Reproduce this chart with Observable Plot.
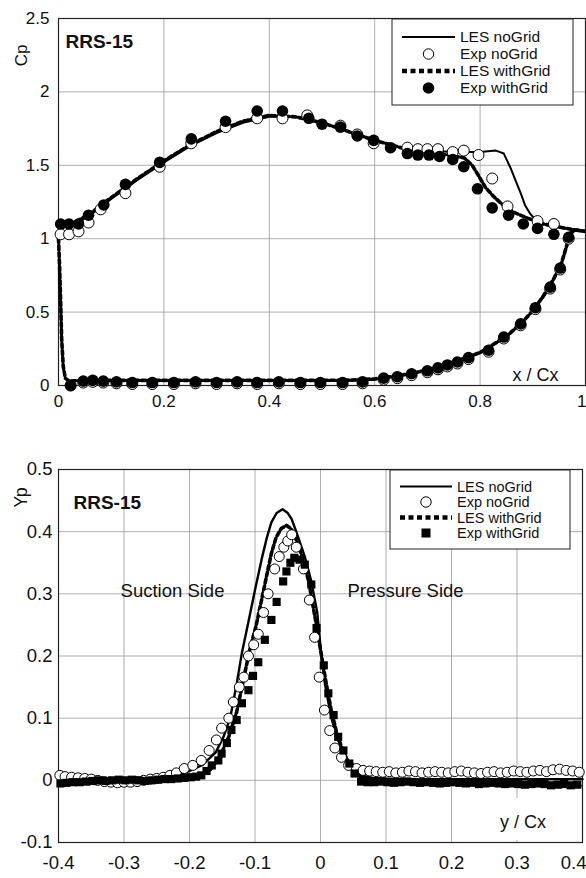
<!DOCTYPE html>
<html><head><meta charset="utf-8">
<script src="https://cdn.jsdelivr.net/npm/d3@7"></script>
<script src="https://cdn.jsdelivr.net/npm/@observablehq/plot@0.6"></script>
<style>
body{margin:0;background:#fff;}
#wrap{position:relative;width:586px;height:878px;overflow:hidden;font-family:"Liberation Sans",Arial,sans-serif;background:#fff;}
.panel{position:absolute;left:0;}
</style></head><body><div id="wrap"></div>
<script>
// ---------- Top panel: Cp vs x/Cx ----------
const cpXTicks = [0, 0.2, 0.4, 0.6, 0.8];
const cpXLastTick = [1];
const cpYTicks = [0, 0.5, 1, 1.5, 2, 2.5];

const cpLesNoGridUpperX = [0, 0.004, 0.012, 0.03, 0.06, 0.1, 0.15, 0.2, 0.25, 0.3, 0.35, 0.4, 0.45, 0.5, 0.55, 0.6, 0.65, 0.7, 0.75, 0.8, 0.83, 0.845, 0.858, 0.868, 0.877, 0.885, 0.895, 0.905, 0.92, 0.94, 0.96, 0.98, 1.0];
const cpLesNoGridUpperCp = [1.0, 1.06, 1.08, 1.10, 1.16, 1.27, 1.40, 1.52, 1.63, 1.72, 1.79, 1.83, 1.83, 1.79, 1.73, 1.67, 1.62, 1.60, 1.59, 1.59, 1.60, 1.58, 1.48, 1.39, 1.31, 1.23, 1.17, 1.13, 1.10, 1.08, 1.07, 1.06, 1.05];
const cpLesNoGridLowerX = [0, 0.002, 0.004, 0.006, 0.009, 0.013, 0.02, 0.05, 0.1, 0.2, 0.3, 0.4, 0.5, 0.55, 0.6, 0.65, 0.7, 0.75, 0.8, 0.85, 0.88, 0.9, 0.92, 0.94, 0.955, 0.965, 0.972, 0.98, 1.0];
const cpLesNoGridLowerCp = [1.0, 0.8, 0.55, 0.3, 0.12, 0.05, 0.03, 0.03, 0.03, 0.03, 0.03, 0.03, 0.03, 0.03, 0.04, 0.065, 0.10, 0.155, 0.22, 0.33, 0.43, 0.51, 0.6, 0.72, 0.83, 0.95, 1.03, 1.06, 1.05];

const cpLesWithGridUpperX = [0, 0.004, 0.012, 0.03, 0.06, 0.1, 0.15, 0.2, 0.25, 0.3, 0.35, 0.4, 0.45, 0.5, 0.55, 0.6, 0.65, 0.7, 0.74, 0.77, 0.785, 0.797, 0.81, 0.825, 0.84, 0.864, 0.89, 0.92, 0.95, 0.98, 1.0];
const cpLesWithGridUpperCp = [1.0, 1.07, 1.09, 1.11, 1.17, 1.28, 1.41, 1.53, 1.64, 1.73, 1.80, 1.84, 1.83, 1.79, 1.73, 1.67, 1.62, 1.59, 1.57, 1.55, 1.50, 1.43, 1.35, 1.29, 1.24, 1.18, 1.14, 1.10, 1.08, 1.06, 1.05];
const cpLesWithGridLowerX = [0, 0.002, 0.004, 0.006, 0.009, 0.013, 0.02, 0.05, 0.1, 0.2, 0.3, 0.4, 0.5, 0.55, 0.6, 0.65, 0.7, 0.75, 0.8, 0.85, 0.88, 0.9, 0.92, 0.94, 0.955, 0.965, 0.972, 0.98, 1.0];
const cpLesWithGridLowerCp = [1.0, 0.82, 0.58, 0.32, 0.13, 0.05, 0.03, 0.035, 0.035, 0.035, 0.035, 0.035, 0.035, 0.037, 0.045, 0.07, 0.105, 0.16, 0.225, 0.335, 0.43, 0.51, 0.61, 0.73, 0.84, 0.96, 1.04, 1.06, 1.05];

const cpExpNoGridUpperX = [0.004, 0.02, 0.038, 0.057, 0.08, 0.127, 0.192, 0.252, 0.317, 0.377, 0.425, 0.472, 0.535, 0.567, 0.598, 0.662, 0.682, 0.70, 0.72, 0.748, 0.769, 0.797, 0.823, 0.852, 0.909, 0.94];
const cpExpNoGridUpperCp = [1.03, 1.03, 1.05, 1.11, 1.20, 1.31, 1.49, 1.65, 1.76, 1.82, 1.82, 1.84, 1.77, 1.71, 1.65, 1.62, 1.61, 1.61, 1.61, 1.59, 1.60, 1.57, 1.41, 1.22, 1.12, 1.10];
const cpExpWithGridUpperX = [0.004, 0.02, 0.038, 0.057, 0.086, 0.127, 0.192, 0.252, 0.317, 0.377, 0.425, 0.475, 0.50, 0.535, 0.567, 0.598, 0.63, 0.662, 0.682, 0.703, 0.723, 0.748, 0.769, 0.795, 0.823, 0.854, 0.882, 0.909, 0.94];
const cpExpWithGridUpperCp = [1.10, 1.10, 1.10, 1.16, 1.23, 1.37, 1.52, 1.68, 1.80, 1.87, 1.87, 1.82, 1.78, 1.76, 1.70, 1.67, 1.62, 1.58, 1.57, 1.57, 1.56, 1.54, 1.49, 1.34, 1.21, 1.16, 1.10, 1.07, 1.03];
const cpExpLowerX = [0.023, 0.047, 0.065, 0.085, 0.11, 0.14, 0.178, 0.219, 0.26, 0.30, 0.339, 0.377, 0.418, 0.459, 0.497, 0.539, 0.577, 0.617, 0.643, 0.67, 0.70, 0.72, 0.738, 0.757, 0.778, 0.816, 0.845, 0.877, 0.905, 0.933, 0.952, 0.968];
const cpExpWithGridLowerCp = [0.0, 0.03, 0.035, 0.03, 0.025, 0.02, 0.02, 0.02, 0.025, 0.02, 0.025, 0.02, 0.025, 0.02, 0.02, 0.02, 0.025, 0.05, 0.06, 0.08, 0.10, 0.12, 0.14, 0.16, 0.19, 0.24, 0.33, 0.42, 0.53, 0.67, 0.80, 1.01];
const cpExpNoGridLowerCp = [0.0, 0.02, 0.025, 0.02, 0.015, 0.01, 0.01, 0.01, 0.015, 0.01, 0.015, 0.01, 0.015, 0.01, 0.01, 0.01, 0.015, 0.04, 0.05, 0.07, 0.09, 0.11, 0.13, 0.15, 0.18, 0.23, 0.32, 0.41, 0.52, 0.66, 0.79, 1.0];

// ---------- Bottom panel: Yp vs y/Cx ----------
const ypXTicks = [-0.4, -0.3, -0.2, -0.1, 0, 0.1, 0.2, 0.3];
const ypXLastTick = [0.4];
const ypYTicks = [-0.1, 0, 0.1, 0.2, 0.3, 0.4, 0.5];

const ypLesNoGridX = [-0.4, -0.35, -0.3, -0.25, -0.22, -0.2, -0.18, -0.16, -0.148, -0.138, -0.128, -0.12, -0.11, -0.1, -0.09, -0.082, -0.075, -0.067, -0.058, -0.05, -0.044, -0.037, -0.024, -0.014, -0.005, 0.0, 0.006, 0.012, 0.018, 0.027, 0.04, 0.052, 0.065, 0.08, 0.1, 0.15, 0.2, 0.25, 0.3, 0.35, 0.4];
const ypLesNoGrid = [0.0, 0.0, 0.001, 0.004, 0.009, 0.015, 0.025, 0.045, 0.07, 0.10, 0.155, 0.205, 0.255, 0.306, 0.355, 0.39, 0.415, 0.43, 0.436, 0.43, 0.42, 0.40, 0.36, 0.32, 0.27, 0.215, 0.16, 0.125, 0.095, 0.065, 0.032, 0.014, 0.007, 0.004, 0.003, 0.002, 0.002, 0.002, 0.002, 0.002, 0.002];
const ypLesWithGridX = [-0.4, -0.35, -0.3, -0.25, -0.22, -0.19, -0.17, -0.155, -0.14, -0.128, -0.118, -0.108, -0.098, -0.09, -0.082, -0.075, -0.068, -0.06, -0.052, -0.045, -0.038, -0.028, -0.018, -0.008, 0.0, 0.008, 0.016, 0.025, 0.035, 0.048, 0.06, 0.08, 0.1, 0.15, 0.2, 0.25, 0.3, 0.35, 0.4];
const ypLesWithGrid = [-0.006, -0.005, -0.004, -0.002, 0.0, 0.006, 0.015, 0.035, 0.07, 0.11, 0.16, 0.21, 0.25, 0.29, 0.33, 0.365, 0.39, 0.405, 0.41, 0.405, 0.39, 0.36, 0.32, 0.26, 0.21, 0.16, 0.115, 0.075, 0.045, 0.02, 0.006, -0.002, -0.004, -0.005, -0.005, -0.006, -0.007, -0.008, -0.009];

const ypExpNoGridLeftX = [-0.398, -0.39, -0.38, -0.37, -0.36, -0.35, -0.34, -0.33, -0.32, -0.31, -0.30, -0.29, -0.28, -0.27, -0.26, -0.25, -0.24, -0.23, -0.22];
const ypExpNoGridLeft = [0.008, 0.006, 0.005, 0.004, 0.003, 0.002, 0.0, -0.002, -0.003, -0.004, -0.003, -0.003, -0.002, 0.0, 0.002, 0.003, 0.005, 0.008, 0.012];
const ypExpNoGridPeakX = [-0.208, -0.195, -0.182, -0.17, -0.159, -0.151, -0.14, -0.133, -0.124, -0.117, -0.11, -0.102, -0.095, -0.087, -0.08, -0.07, -0.063, -0.056, -0.05, -0.044, -0.037, -0.026, -0.017, -0.009, -0.002, 0.006, 0.014, 0.022, 0.032, 0.043, 0.055];
const ypExpNoGridPeak = [0.019, 0.024, 0.032, 0.048, 0.065, 0.084, 0.10, 0.126, 0.15, 0.166, 0.20, 0.218, 0.235, 0.27, 0.30, 0.34, 0.36, 0.375, 0.385, 0.395, 0.375, 0.34, 0.29, 0.23, 0.166, 0.113, 0.08, 0.052, 0.037, 0.024, 0.019];
const ypExpNoGridRightX = [0.065, 0.075, 0.085, 0.095, 0.105, 0.115, 0.125, 0.135, 0.145, 0.155, 0.165, 0.175, 0.185, 0.195, 0.205, 0.215, 0.225, 0.235, 0.245, 0.255, 0.265, 0.275, 0.285, 0.295, 0.305, 0.315, 0.325, 0.335, 0.345, 0.355, 0.365, 0.375, 0.385, 0.395];
const ypExpNoGridRight = [0.016, 0.015, 0.014, 0.013, 0.014, 0.012, 0.013, 0.015, 0.014, 0.012, 0.013, 0.014, 0.013, 0.012, 0.014, 0.015, 0.013, 0.012, 0.011, 0.013, 0.014, 0.012, 0.013, 0.015, 0.014, 0.013, 0.015, 0.016, 0.014, 0.017, 0.018, 0.016, 0.015, 0.013];

const ypExpWithGridLeftX = [-0.397, -0.388, -0.378, -0.368, -0.358, -0.348, -0.338, -0.328, -0.318, -0.308, -0.298, -0.288, -0.278, -0.268, -0.258, -0.248, -0.238, -0.228, -0.218, -0.208, -0.198, -0.19];
const ypExpWithGridLeft = [-0.005, -0.004, -0.003, -0.003, -0.002, -0.001, 0.0, -0.001, 0.0, 0.001, 0.0, 0.001, 0.0, -0.001, 0.0, 0.001, 0.002, 0.002, 0.003, 0.004, 0.005, 0.006];
const ypExpWithGridPeakX = [-0.182, -0.174, -0.166, -0.156, -0.151, -0.143, -0.136, -0.128, -0.12, -0.11, -0.103, -0.095, -0.085, -0.075, -0.067, -0.057, -0.052, -0.046, -0.04, -0.032, -0.024, -0.014, -0.006, 0.005, 0.012, 0.02, 0.027, 0.035, 0.044, 0.052];
const ypExpWithGridPeak = [0.008, 0.015, 0.024, 0.032, 0.043, 0.06, 0.081, 0.097, 0.124, 0.145, 0.168, 0.19, 0.226, 0.258, 0.287, 0.32, 0.336, 0.35, 0.358, 0.355, 0.347, 0.315, 0.245, 0.185, 0.14, 0.105, 0.07, 0.048, 0.027, 0.011];
const ypExpWithGridRightX = [0.062, 0.072, 0.082, 0.092, 0.102, 0.112, 0.122, 0.132, 0.142, 0.152, 0.162, 0.172, 0.182, 0.192, 0.202, 0.212, 0.222, 0.232, 0.242, 0.252, 0.262, 0.272, 0.282, 0.292, 0.302, 0.312, 0.322, 0.332, 0.342, 0.352, 0.362, 0.372, 0.382, 0.392];
const ypExpWithGridRight = [-0.002, -0.003, -0.003, -0.002, -0.003, -0.004, -0.003, -0.002, -0.003, -0.004, -0.003, -0.004, -0.005, -0.004, -0.003, -0.004, -0.005, -0.004, -0.006, -0.005, -0.004, -0.005, -0.006, -0.005, -0.006, -0.007, -0.006, -0.005, -0.006, -0.008, -0.007, -0.006, -0.008, -0.007];

const legendLabels = ["LES noGrid", "Exp noGrid", "LES withGrid", "Exp withGrid"];

// ---------- helpers ----------
const pts = (xs, ys) => xs.map((x, i) => ({x, y: ys[i]}));
const fmt = d => String(d);
const FONT = '"Liberation Sans", Arial, sans-serif';
const gridStyle = {stroke: "#9a9a9a", strokeOpacity: 1, strokeWidth: 0.8};
const solid = {x: "x", y: "y", stroke: "#000", strokeWidth: 2, curve: "linear"};
const dashed = {x: "x", y: "y", stroke: "#000", strokeWidth: 3.6, strokeDasharray: "4,3", curve: "linear"};
const label = (s, opts) => Plot.text([s], {text: d => d, frameAnchor: "top-left", textAnchor: "middle", fill: "#111", ...opts});

const wrap = document.getElementById("wrap");

// Top plot
const topPlot = Plot.plot({
  width: 586, height: 430,
  marginLeft: 58, marginRight: 1, marginTop: 18, marginBottom: 45,
  style: {fontFamily: FONT, fontSize: "17px", color: "#111", background: "#fff"},
  x: {domain: [0, 1]},
  y: {domain: [0, 2.5]},
  marks: [
    Plot.gridX(cpXTicks, gridStyle),
    Plot.gridY(cpYTicks, gridStyle),
    Plot.axisX(cpXTicks, {tickSize: 0, tickPadding: 9, tickFormat: fmt, label: null, fontSize: 17}),
    Plot.axisX(cpXLastTick, {tickSize: 0, tickPadding: 9, tickFormat: fmt, label: null, fontSize: 17, textAnchor: "end", dx: 1}),
    Plot.axisY(cpYTicks, {tickSize: 0, tickPadding: 9, tickFormat: fmt, label: null, fontSize: 17}),
    Plot.frame({stroke: "#222", strokeWidth: 1.2}),
    Plot.line(pts(cpLesNoGridUpperX, cpLesNoGridUpperCp), solid),
    Plot.line(pts(cpLesNoGridLowerX, cpLesNoGridLowerCp), solid),
    Plot.line(pts(cpLesWithGridUpperX, cpLesWithGridUpperCp), dashed),
    Plot.line(pts(cpLesWithGridLowerX, cpLesWithGridLowerCp), dashed),
    Plot.dot(pts(cpExpNoGridUpperX, cpExpNoGridUpperCp), {x: "x", y: "y", r: 5.5, fill: "#fff", stroke: "#000", strokeWidth: 1}),
    Plot.dot(pts(cpExpLowerX, cpExpNoGridLowerCp), {x: "x", y: "y", r: 5.5, fill: "#fff", stroke: "#000", strokeWidth: 1}),
    Plot.dot(pts(cpExpWithGridUpperX, cpExpWithGridUpperCp), {x: "x", y: "y", r: 5.8, fill: "#000"}),
    Plot.dot(pts(cpExpLowerX, cpExpWithGridLowerCp), {x: "x", y: "y", r: 5.8, fill: "#000"}),
    label("Cp", {dx: -44, dy: 37, rotate: -90, fontSize: 17}),
    label("RRS-15", {dx: 7, dy: 16, textAnchor: "start", fontWeight: "bold", fontSize: 19}),
    label("x / Cx", {dx: 477, dy: 350, fontSize: 18})
  ]
});
topPlot.classList.add("panel");
topPlot.style.top = "0px";
wrap.appendChild(topPlot);

// Bottom plot
const botPlot = Plot.plot({
  width: 586, height: 448,
  marginLeft: 58, marginRight: 4, marginTop: 39, marginBottom: 36,
  style: {fontFamily: FONT, fontSize: "18px", color: "#111", background: "#fff"},
  x: {domain: [-0.4, 0.4]},
  y: {domain: [-0.1, 0.5]},
  marks: [
    Plot.gridX(ypXTicks, gridStyle),
    Plot.gridY(ypYTicks, gridStyle),
    Plot.axisX(ypXTicks, {tickSize: 0, tickPadding: 13, tickFormat: fmt, label: null, fontSize: 18.5}),
    Plot.axisX(ypXLastTick, {tickSize: 0, tickPadding: 13, tickFormat: fmt, label: null, fontSize: 18.5, textAnchor: "end", dx: 4}),
    Plot.axisY(ypYTicks, {tickSize: 0, tickPadding: 6, tickFormat: fmt, label: null, fontSize: 18.5}),
    Plot.frame({stroke: "#222", strokeWidth: 1.2}),
    Plot.line(pts(ypLesNoGridX, ypLesNoGrid), {...solid, strokeWidth: 2.4}),
    Plot.line(pts(ypLesWithGridX, ypLesWithGrid), dashed),
    Plot.dot(pts(ypExpNoGridLeftX, ypExpNoGridLeft), {x: "x", y: "y", r: 5, fill: "#fff", stroke: "#000", strokeWidth: 1}),
    Plot.dot(pts(ypExpNoGridPeakX, ypExpNoGridPeak), {x: "x", y: "y", r: 5, fill: "#fff", stroke: "#000", strokeWidth: 1}),
    Plot.dot(pts(ypExpNoGridRightX, ypExpNoGridRight), {x: "x", y: "y", r: 5, fill: "#fff", stroke: "#000", strokeWidth: 1}),
    Plot.dot(pts(ypExpWithGridLeftX, ypExpWithGridLeft), {x: "x", y: "y", r: 4.6, symbol: "square", fill: "#000"}),
    Plot.dot(pts(ypExpWithGridPeakX, ypExpWithGridPeak), {x: "x", y: "y", r: 4.6, symbol: "square", fill: "#000"}),
    Plot.dot(pts(ypExpWithGridRightX, ypExpWithGridRight), {x: "x", y: "y", r: 4.6, symbol: "square", fill: "#000"}),
    label("Yp", {dx: -44, dy: 28, rotate: -90, fontSize: 18}),
    label("RRS-15", {dx: 15, dy: 26, textAnchor: "start", fontWeight: "bold", fontSize: 19}),
    label("Suction Side", {dx: 114, dy: 114, fontSize: 18.5}),
    label("Pressure Side", {dx: 347, dy: 114, fontSize: 18.5})
  ]
});
botPlot.classList.add("panel");
botPlot.style.top = "430px";
wrap.appendChild(botPlot);

// Overlay: legends and the bottom axis-title box
const ov = d3.select(wrap).append("svg")
  .attr("width", 586).attr("height", 878)
  .style("position", "absolute").style("left", 0).style("top", 0)
  .style("font-family", FONT);

function drawLegend(box, rows, x0, x1, tx, squareMarker, fs) {
  ov.append("rect").attr("x", box[0]).attr("y", box[1]).attr("width", box[2] - box[0]).attr("height", box[3] - box[1])
    .attr("fill", "#fff").attr("stroke", "#222").attr("stroke-width", 1);
  const cx = (x0 + x1) / 2;
  legendLabels.forEach((lab, i) => {
    const y = rows[i];
    if (i === 0) ov.append("line").attr("x1", x0).attr("x2", x1).attr("y1", y).attr("y2", y).attr("stroke", "#000").attr("stroke-width", 2);
    if (i === 2) ov.append("line").attr("x1", x0).attr("x2", x1).attr("y1", y).attr("y2", y).attr("stroke", "#000").attr("stroke-width", 4.5).attr("stroke-dasharray", "5,3.5");
    if (i === 1) ov.append("circle").attr("cx", cx).attr("cy", y).attr("r", 5.2).attr("fill", "#fff").attr("stroke", "#000");
    if (i === 3) {
      if (squareMarker) ov.append("rect").attr("x", cx - 4.5).attr("y", y - 4.5).attr("width", 9).attr("height", 9).attr("fill", "#000");
      else ov.append("circle").attr("cx", cx).attr("cy", y).attr("r", 5.8).attr("fill", "#000");
    }
    ov.append("text").attr("x", tx).attr("y", y).attr("dy", "0.35em").attr("font-size", fs).attr("fill", "#111").text(lab);
  });
}
drawLegend([392, 19, 573, 105], [37, 54, 71, 88], 402, 455, 460, false, 15.5);
drawLegend([390, 470, 570, 549], [486.5, 502, 517.5, 533], 400, 452, 457, true, 14.5);

// white box holding the bottom axis title
ov.append("rect").attr("x", 460).attr("y", 798).attr("width", 120).attr("height", 42).attr("fill", "#fff");
ov.append("text").attr("x", 523).attr("y", 822).attr("dy", "0.35em").attr("text-anchor", "middle").attr("font-size", 18).attr("fill", "#111").text("y / Cx");
</script>
</body></html>
